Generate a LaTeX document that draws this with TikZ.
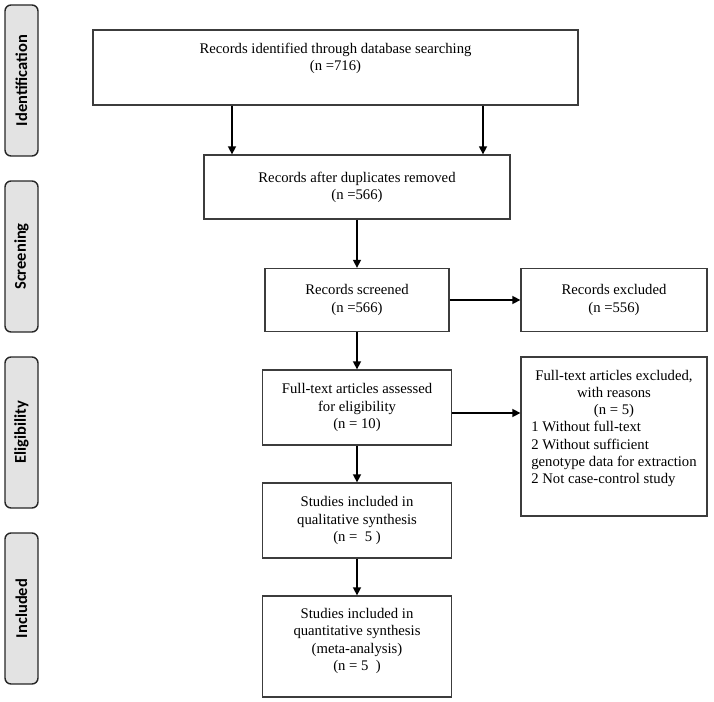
\documentclass[tikz,border=0pt]{standalone}
\usepackage{fontspec}
\setmainfont{Liberation Serif}
\newfontfamily\sidefont{Carlito}
\usetikzlibrary{arrows.meta}
\definecolor{boxline}{HTML}{3C3C3C}
\definecolor{sidefill}{HTML}{E3E3E3}
\tikzset{
  box/.style={draw=boxline, line width=1.3pt, rectangle, align=center, inner sep=2pt,
    font=\fontsize{14.7}{17.2}\selectfont},
  txt/.style={align=center, inner sep=0pt, font=\fontsize{14.7}{17.2}\selectfont},
  side/.style={draw=black!85, fill=sidefill, line width=1.4pt, rounded corners=6pt,
    minimum width=33pt, minimum height=151pt, inner sep=0pt},
  sidetxt/.style={rotate=90, font=\sidefont\bfseries\fontsize{16.5}{19}\selectfont, inner sep=0pt},
  arr/.style={line width=1.5pt, -{Triangle[length=8pt,width=8pt]}},
}
\begin{document}
\begin{tikzpicture}[x=1pt,y=-1pt]
\useasboundingbox (0,0) rectangle (714,701);

% side labels
\node[side] (sid) at (21.5,80.5) {};
\node[sidetxt] (sidt) at (sid.center) {Identification};
\node[side] (sscr) at (21.5,256.5) {};
\node[sidetxt] (sscrt) at (sscr.center) {Screening};
\node[side] (selg) at (21.5,432.5) {};
\node[sidetxt] (selgt) at (selg.center) {Eligibility};
\node[side] (sinc) at (21.5,608.5) {};
\node[sidetxt] (sinct) at (sinc.center) {Included};

% main boxes
\node[box, minimum width=485pt, minimum height=75pt] (b1) at (335.5,67.5) {};
\node[txt] (b1t) at (335.5,58) {Records identified through database searching\\(n =716)};

\node[box, minimum width=306pt, minimum height=64pt] (b2) at (357,187) {Records after duplicates removed\\(n =566)};
\node[box, minimum width=184pt, minimum height=63pt] (b3) at (357,300) {Records screened\\(n =566)};
\node[box, minimum width=186pt, minimum height=63pt] (e1) at (614,300) {Records excluded\\(n =556)};
\node[box, minimum width=189pt, minimum height=75pt] (b4) at (357,407.5) {Full-text articles assessed\\for eligibility\\(n = 10)};
\node[box, minimum width=186pt, minimum height=159pt] (e2) at (614,436.5) {};
\node[txt, anchor=north] (e2t) at (614,368) {%
  \setlength{\tabcolsep}{0pt}\renewcommand{\arraystretch}{1}%
  \begin{tabular}{l}
  \multicolumn{1}{c}{Full-text articles excluded,}\\
  \multicolumn{1}{c}{with reasons}\\
  \multicolumn{1}{c}{(n = 5)}\\
  1 Without full-text\\
  2 Without sufficient\\
  genotype data for extraction\\
  2 Not case-control study
  \end{tabular}};
\node[box, minimum width=189pt, minimum height=75pt] (b5) at (357,520.5) {Studies included in\\qualitative synthesis\\(n =\ \ 5 )};
\node[box, minimum width=189pt, minimum height=101pt] (b6) at (357,646.5) {};
\node[txt] (b6t) at (357,641) {Studies included in\\quantitative synthesis\\(meta-analysis)\\(n = 5\ \ )};

% connectors
\coordinate (cl) at (232,0);
\coordinate (cr) at (483,0);
\draw[arr] (b1.south -| cl) -- (b2.north -| cl);
\draw[arr] (b1.south -| cr) -- (b2.north -| cr);
\draw[arr] (b2.south) -- (b3.north);
\draw[arr] (b3.east) -- (e1.west);
\draw[arr] (b3.south) -- (b4.north);
\draw[arr] ([yshift=-5.5pt]b4.east) -- ([yshift=-5.5pt]b4.east -| e2.west);
\draw[arr] (b4.south) -- (b5.north);
\draw[arr] (b5.south) -- (b6.north);
\end{tikzpicture}
\end{document}
